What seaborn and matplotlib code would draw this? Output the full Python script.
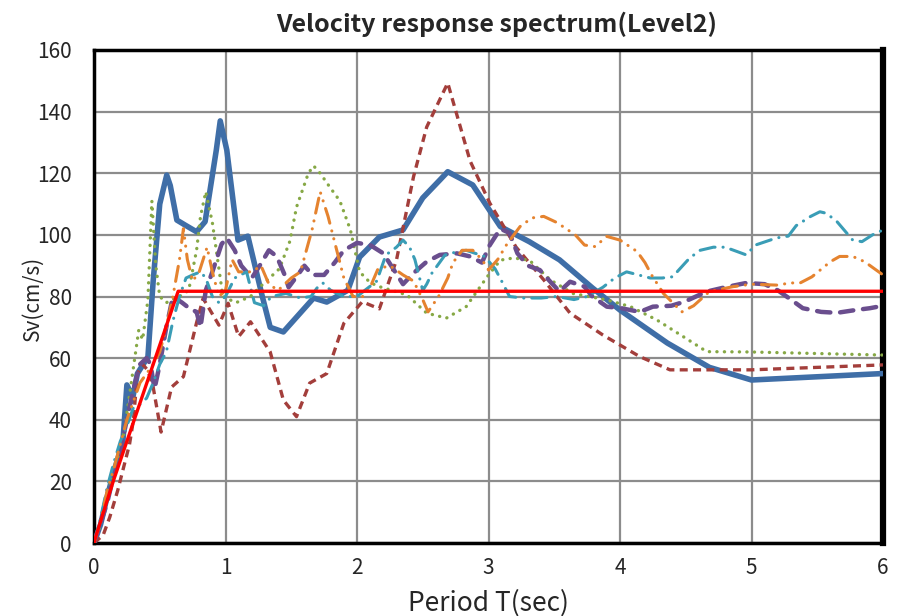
import numpy as np
import pandas as pd
import matplotlib
matplotlib.use("Agg")
import matplotlib.pyplot as plt
import seaborn as sns

# Observed velocity response spectra (period T [s], Sv [cm/s])
t_wave1 = [0, 0.05, 0.1, 0.15, 0.2, 0.22, 0.25, 0.27, 0.29, 0.33, 0.41, 0.45, 0.5, 0.553, 0.58, 0.63,
           0.7, 0.78, 0.845, 0.93, 0.96, 1.01, 1.095, 1.17, 1.28, 1.34, 1.44, 1.67, 1.77, 1.93, 2.02,
           2.17, 2.35, 2.5, 2.63, 2.69, 2.88, 3.09, 3.31, 3.54, 3.79, 4.0, 4.36, 4.68, 5.0, 6.0]
sv_wave1 = [0, 6, 15, 23, 30, 33, 51.3, 49.6, 46, 55, 60.4, 85, 110, 119.4, 116, 104.8,
            103, 101, 104.3, 127.5, 137, 127.5, 98.3, 99.6, 80, 70, 68.5, 79.5, 78.2, 82, 92.8,
            99.3, 101.6, 112, 117.8, 120.5, 116.2, 102.7, 97.8, 91.9, 82.8, 75.6, 64.9, 57, 52.9, 55]

t_wave2 = [0, 0.07, 0.12, 0.18, 0.22, 0.27, 0.3, 0.33, 0.37, 0.41, 0.45, 0.51, 0.59, 0.68, 0.78,
           0.83, 0.95, 1.02, 1.10, 1.19, 1.34, 1.44, 1.54, 1.64, 1.77, 1.90, 2.04, 2.17, 2.30,
           2.43, 2.53, 2.69, 2.86, 3.01, 3.21, 3.42, 3.62, 3.87, 4.15, 4.38, 5.0, 6.0]
sv_wave2 = [0, 2.6, 8.4, 17, 23.7, 32, 40, 55, 58, 56, 50.6, 36, 50.6, 54, 71.5,
            79.4, 70.7, 77.8, 67, 71.8, 62, 46.4, 41, 51.9, 55, 71.3, 78.3, 76, 91.8,
            118.9, 135, 149.3, 124, 110.3, 96, 85.4, 74.6, 67.5, 60.5, 56.2, 56.2, 57.8]

t_wave3 = [0, 0.05, 0.1, 0.15, 0.2, 0.22, 0.26, 0.3, 0.34, 0.37, 0.41, 0.44, 0.47, 0.5, 0.55,
           0.6, 0.65, 0.72, 0.78, 0.81, 0.85, 0.9, 0.93, 0.98, 1.08, 1.19, 1.26, 1.31, 1.41,
           1.49, 1.54, 1.63, 1.67, 1.72, 1.79, 1.87, 1.95, 2.02, 2.1, 2.17, 2.38, 2.53, 2.68,
           2.83, 2.99, 3.09, 3.19, 3.31, 3.47, 3.64, 3.9, 4.08, 4.28, 4.48, 4.66, 4.99, 6.0]
sv_wave3 = [0, 6, 14, 24, 30, 34, 45, 57, 69, 66, 79, 111, 90, 80, 78,
            79, 80, 82, 95, 106, 114, 104, 95, 80, 78, 80, 83, 85, 89,
            98, 109, 120, 122.4, 120, 115.7, 111, 101.6, 88, 84.5, 83.2, 80.5, 74.6, 73,
            76.7, 86.4, 91.8, 92.5, 91.8, 85.4, 81, 78.9, 76.7, 72.4, 67, 62.1, 62, 61]

t_wave4 = [0, 0.1, 0.15, 0.2, 0.25, 0.3, 0.35, 0.4, 0.43, 0.46, 0.5, 0.55, 0.6, 0.67, 0.73,
           0.78, 0.81, 0.85, 0.9, 0.97, 1.01, 1.07, 1.12, 1.2, 1.26, 1.33, 1.39, 1.45, 1.48,
           1.55, 1.6, 1.66, 1.75, 1.83, 1.9, 2.0, 2.1, 2.2, 2.29, 2.35, 2.43, 2.53, 2.63,
           2.76, 2.86, 2.95, 3.01, 3.09, 3.16, 3.22, 3.3, 3.39, 3.47, 3.54, 3.62, 3.73, 3.79,
           3.9, 4.01, 4.15, 4.25, 4.39, 4.49, 4.66, 4.8, 4.96, 5.1, 5.2, 5.3, 5.39, 5.53,
           5.65, 5.79, 5.9, 6.0]
sv_wave4 = [0, 13, 22, 30, 40, 50, 58, 60, 58, 50, 58, 70, 80, 78, 76,
            75, 70, 82, 88, 97, 99, 95, 90, 86, 90, 95, 93, 87, 83,
            87, 90, 87, 87, 91, 95, 97.4, 96.7, 94, 88, 84, 87.6, 91.3, 93.5,
            94, 93, 91, 96.7, 102, 100.6, 94, 90, 88.6, 84.8, 81.6, 84.8, 83.2, 80,
            76.7, 76.2, 75, 76.7, 77, 78.3, 81.6, 83, 84.4, 84, 82, 79, 76.2, 75,
            74.7, 75.6, 76.2, 77]

t_wave5 = [0, 0.05, 0.1, 0.15, 0.2, 0.25, 0.3, 0.35, 0.4, 0.45, 0.5, 0.55, 0.6, 0.65, 0.7,
           0.75, 0.81, 0.85, 0.9, 0.95, 1.0, 1.07, 1.16, 1.22, 1.29, 1.35, 1.46, 1.57, 1.65,
           1.7, 1.74, 1.8, 1.9, 2.0, 2.06, 2.15, 2.22, 2.3, 2.35, 2.4, 2.44, 2.5, 2.53, 2.57,
           2.67, 2.76, 2.83, 2.97, 3.05, 3.1, 3.16, 3.26, 3.4, 3.52, 3.65, 3.75, 3.87, 3.96,
           4.05, 4.23, 4.32, 4.4, 4.53, 4.61, 4.71, 4.8, 4.89, 4.96, 5.03, 5.19, 5.28, 5.34,
           5.45, 5.52, 5.57, 5.65, 5.77, 5.84, 5.92, 6.0]
sv_wave5 = [0, 8, 18, 26, 33, 38, 44, 45, 47, 52, 58, 62, 72, 80, 86,
            87, 88, 86, 80, 78, 80, 86, 88, 78, 77, 80, 81, 79.5, 80,
            83, 84.4, 82, 80, 80, 82, 85, 93.5, 96, 98.3, 96, 92, 82, 84, 87.6,
            93.5, 94.5, 95, 93, 89, 85, 80, 79.5, 79.5, 80, 79, 80, 83, 86,
            88, 86, 86, 86.4, 92.5, 95, 96, 96, 94.6, 93.5, 96.7, 99, 99.6, 103,
            106, 107.5, 107, 104.3, 98.3, 97.8, 100, 101.6]

t_wave6 = [0, 0.05, 0.1, 0.15, 0.2, 0.25, 0.3, 0.35, 0.4, 0.45, 0.5, 0.55, 0.6, 0.65, 0.68,
           0.71, 0.75, 0.8, 0.86, 0.9, 0.95, 1.0, 1.05, 1.1, 1.2, 1.27, 1.33, 1.4, 1.5, 1.57,
           1.66, 1.72, 1.78, 1.84, 1.9, 1.97, 2.05, 2.1, 2.16, 2.25, 2.35, 2.43, 2.5, 2.54,
           2.62, 2.69, 2.73, 2.8, 2.88, 2.95, 3.0, 3.07, 3.14, 3.24, 3.33, 3.42, 3.52, 3.66,
           3.73, 3.81, 3.9, 4.0, 4.13, 4.19, 4.24, 4.33, 4.47, 4.56, 4.68, 4.86, 5.0, 5.19,
           5.3, 5.37, 5.46, 5.6, 5.67, 5.77, 5.86, 6.0]
sv_wave6 = [0, 7, 17, 24, 32, 40, 46, 52, 55, 58, 62, 70, 80, 92, 102,
            92, 85, 88, 96, 88, 80, 82, 92, 88, 88, 90, 84, 82, 86, 88,
            102, 114, 106, 96, 86, 80, 80, 83, 89, 90, 87, 85, 79, 75,
            80, 86, 91, 95, 95, 92, 88.6, 92, 97, 102.7, 105.5, 106, 104, 100,
            96.7, 96.2, 99.5, 98.3, 94.6, 91, 87, 81, 75, 77, 81.6, 83.2, 84, 83.7,
            84.4, 84.4, 86.4, 91.3, 93, 93, 91.3, 87]

# Design (code) spectrum, Level 2
t_code = [0, 0.02, 0.15, 0.64, 6.0]
sv_code = [0, 3, 20.5, 81.7, 81.7]

y_ticks = [0, 20, 40, 60, 80, 100, 120, 140, 160]
x_ticks = [0, 1, 2, 3, 4, 5, 6]

sns.set_theme(style="white")
plt.rcParams["font.family"] = ["Noto Sans CJK JP", "DejaVu Sans"]

fig = plt.figure(figsize=(9.02, 6.16), dpi=100)
ax = fig.add_axes([94 / 902, 1 - 543 / 616, (883 - 94) / 902, (543 - 50) / 616])

series = [
    (t_wave1, sv_wave1, "#3F6EA7", 4.0, "-", "butt"),
    (t_wave2, sv_wave2, "#A33E3B", 2.4, (0, (2.4, 1.6)), "butt"),
    (t_wave3, sv_wave3, "#86A845", 2.4, (0, (0.05, 2.2)), "round"),
    (t_wave4, sv_wave4, "#6A4E8E", 3.2, (0, (3.0, 2.2)), "round"),
    (t_wave5, sv_wave5, "#3A9DB6", 2.2, (0, (5.0, 2.6, 0.05, 2.6)), "round"),
    (t_wave6, sv_wave6, "#E5832F", 2.2, (0, (5.0, 2.6, 0.05, 2.6, 0.05, 2.6)), "round"),
]

for i, (t, sv, color, lw, ls, cap) in enumerate(series):
    df = pd.DataFrame({"T": t, "Sv": sv})
    sns.lineplot(data=df, x="T", y="Sv", ax=ax, color=color, linewidth=lw,
                 linestyle=ls, dash_capstyle=cap, solid_joinstyle="round",
                 zorder=3 + i, estimator=None)

df_code = pd.DataFrame({"T": t_code, "Sv": sv_code})
sns.lineplot(data=df_code, x="T", y="Sv", ax=ax, color="#FF0000", linewidth=2.4,
             estimator=None, zorder=12)

ax.set_xlim(0, 6)
ax.set_ylim(0, 160)
ax.set_xticks(x_ticks)
ax.set_yticks(y_ticks)
ax.set_xticklabels([str(v) for v in x_ticks], fontsize=15)
ax.set_yticklabels([str(v) for v in y_ticks], fontsize=15)
ax.tick_params(axis="x", length=0, pad=10)
ax.tick_params(axis="y", length=0, pad=16)
ax.grid(True, color="#8C8C8C", linewidth=1.6)
ax.set_axisbelow(True)

for side in ["left", "top", "bottom"]:
    ax.spines[side].set_color("black")
    ax.spines[side].set_linewidth(2.5)
ax.spines["right"].set_color("black")
ax.spines["right"].set_linewidth(4.5)

ax.set_xlabel("")
ax.set_ylabel("")
fig.text(33 / 902, 1 - 298 / 616, "Sv(cm/s)", fontsize=15, rotation=90,
         ha="center", va="center")
fig.text(488 / 902, 1 - 603 / 616, "Period T(sec)", fontsize=19,
         ha="center", va="center")
fig.text(497 / 902, 1 - 24 / 616, "Velocity response spectrum(Level2)", fontsize=18,
         fontweight="bold", ha="center", va="center")

fig.savefig("out.png", dpi=100)
